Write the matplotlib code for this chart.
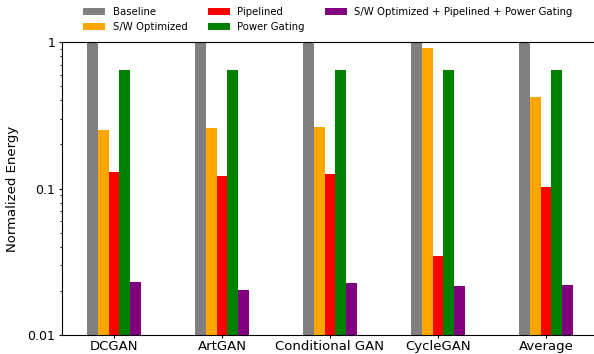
import matplotlib
matplotlib.use("Agg")
import matplotlib.pyplot as plt
import numpy as np
from matplotlib.ticker import FixedLocator, FixedFormatter, LogLocator, NullFormatter

categories = ["DCGAN", "ArtGAN", "Conditional GAN", "CycleGAN", "Average"]
series_names = ["Baseline", "S/W Optimized", "Pipelined", "Power Gating",
                "S/W Optimized + Pipelined + Power Gating"]
baseline = [1.0, 1.0, 1.0, 1.0, 1.0]
sw_optimized = [0.25, 0.26, 0.263, 0.915, 0.42]
pipelined = [0.130, 0.122, 0.125, 0.0346, 0.103]
power_gating = [0.65, 0.65, 0.65, 0.65, 0.65]
combined = [0.0231, 0.0203, 0.0225, 0.0217, 0.0218]
colors = ["gray", "orange", "red", "green", "purple"]

all_series = [baseline, sw_optimized, pipelined, power_gating, combined]

fig = plt.figure(figsize=(5.94, 3.54), dpi=100)
ax = fig.add_axes([0.1045, 0.054, 0.91, 0.827])
x = np.arange(len(categories))
w = 0.1
for i, (vals, name, c) in enumerate(zip(all_series, series_names, colors)):
    ax.bar(x + (i - 2) * w, vals, width=w, color=c, label=name)

ax.set_yscale("log")
ax.set_ylim(0.01, 1)
ax.set_xlim(-0.48, 4.525)
ax.yaxis.set_major_locator(FixedLocator([0.01, 0.1, 1]))
ax.yaxis.set_major_formatter(FixedFormatter(["0.01", "0.1", "1"]))
ax.yaxis.set_minor_locator(LogLocator(base=10, subs=np.arange(2, 10)))
ax.yaxis.set_minor_formatter(NullFormatter())
ax.set_xticks(x)
ax.set_xticklabels(categories, fontsize=9.5)
ax.tick_params(axis="x", length=2.5, pad=1.5)
ax.tick_params(axis="y", which="major", labelsize=9, length=2.5, pad=2.5)
ax.tick_params(axis="y", which="minor", length=1.5)
ax.set_ylabel("Normalized Energy", fontsize=9.5, labelpad=6)

fig.legend(loc="upper left", bbox_to_anchor=(0.1246, 1.005), ncol=3, frameon=False,
           fontsize=7.3, handlelength=2.2, handletextpad=0.7, columnspacing=2.0,
           labelspacing=0.48)

fig.savefig("out.png", dpi=100)
